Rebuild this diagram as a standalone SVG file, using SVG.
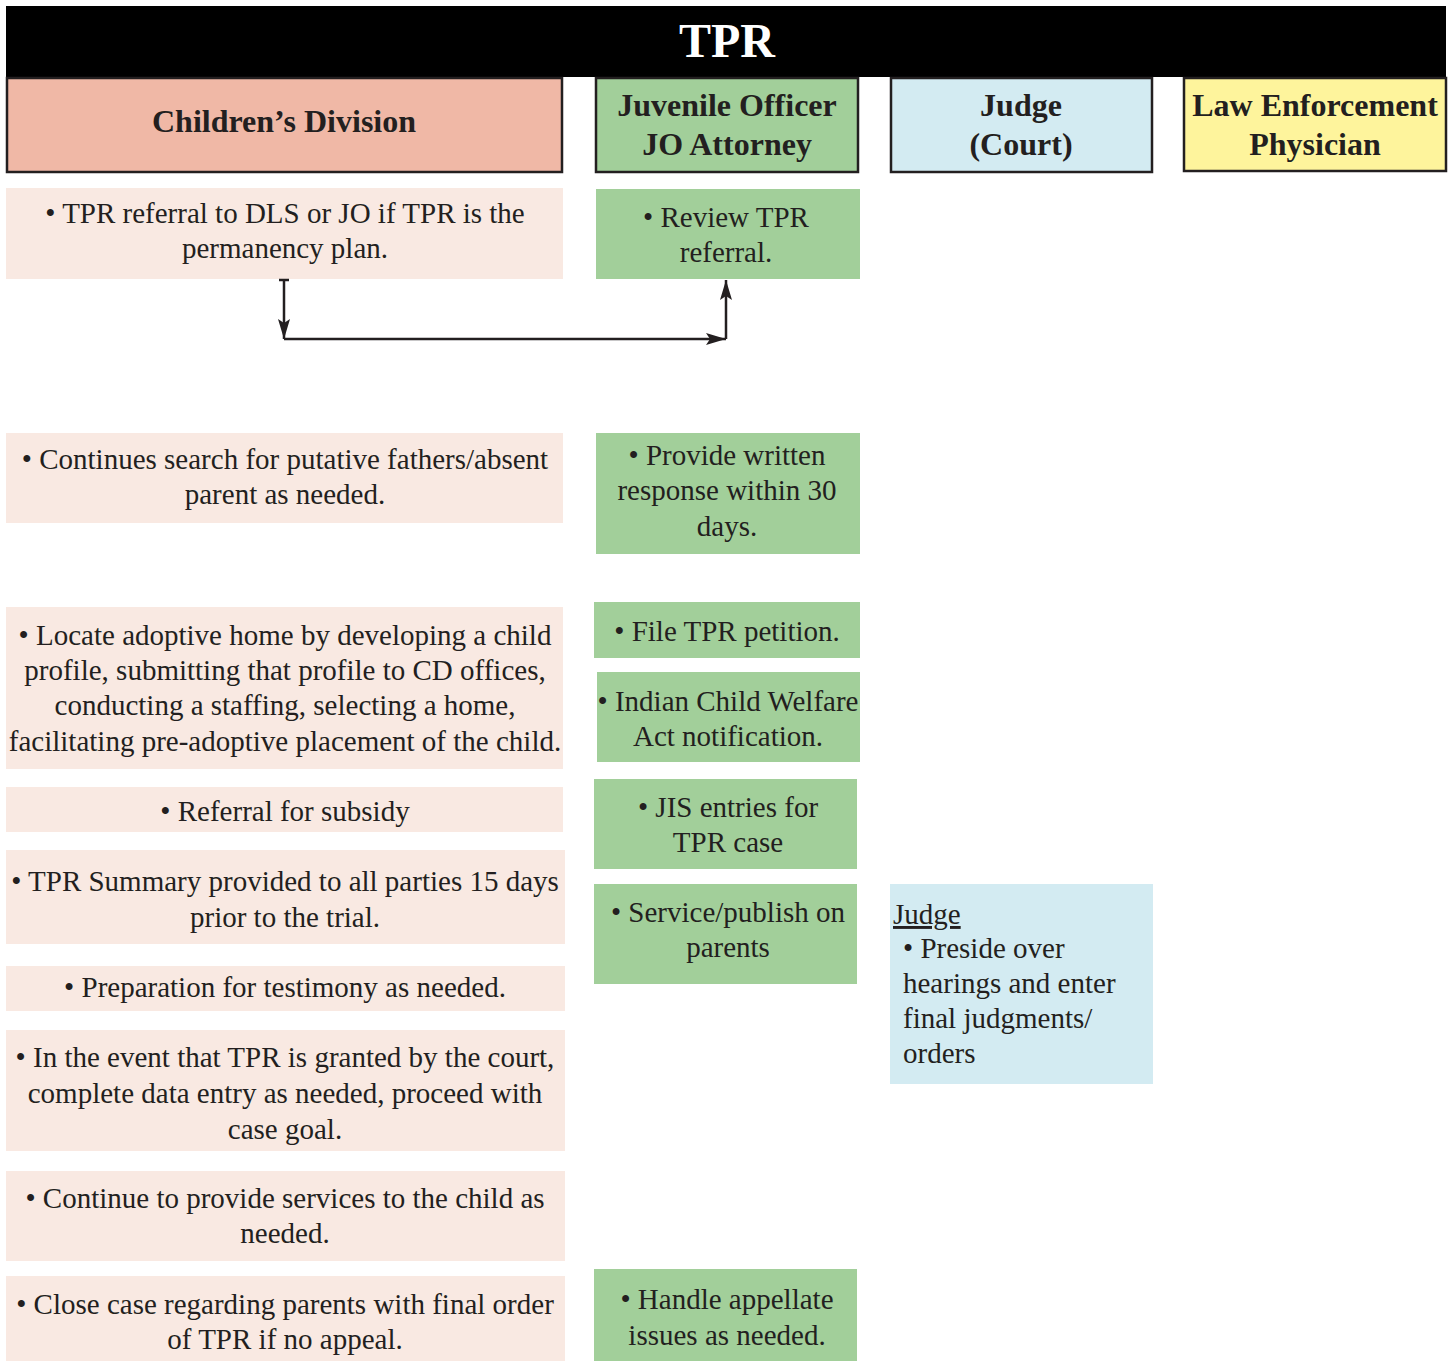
<svg xmlns="http://www.w3.org/2000/svg" width="1454" height="1361" viewBox="0 0 1454 1361">
<style>
.hd{stroke:#231f20;stroke-width:2.5}
.t{font-family:'Liberation Serif',serif;font-size:29px;fill:#231f20}
.h{font-family:'Liberation Serif',serif;font-size:32px;font-weight:bold;fill:#231f20}
.pk{fill:#f9e9e2}
.gr{fill:#a2cf9a}
.bl{fill:#d3ebf2}
.conn{fill:none;stroke:#231f20;stroke-width:2.5}
</style>
<defs>
<marker id="ah2" viewBox="0 0 20 12" refX="20" refY="6" markerWidth="20" markerHeight="12" markerUnits="userSpaceOnUse" orient="auto">
<path d="M0,0 L20,6 L0,12 L4,6 Z" fill="#231f20"/>
</marker>
</defs>
<rect width="1454" height="1361" fill="#ffffff"/>
<g id="title">
<rect x="6" y="6" width="1440" height="71" fill="#000000"/>
<text x="727" y="57" font-family="Liberation Serif, serif" font-size="48" font-weight="bold" fill="#ffffff" text-anchor="middle">TPR</text>
</g>
<g font-family="Liberation Serif, serif" text-anchor="middle">
<g id="hdr-cd">
<rect class="hd" x="7" y="78" width="555" height="94" fill="#f0b8a6"/>
<text class="h" x="284" y="132">Children’s Division</text>
</g>
<g id="hdr-jo">
<rect class="hd" x="596" y="78" width="262" height="94" fill="#a2cf9a"/>
<text class="h" x="727" y="116">Juvenile Officer</text>
<text class="h" x="727" y="155">JO Attorney</text>
</g>
<g id="hdr-judge">
<rect class="hd" x="891" y="78" width="261" height="94" fill="#d3ebf2"/>
<text class="h" x="1021" y="116">Judge</text>
<text class="h" x="1021" y="155">(Court)</text>
</g>
<g id="hdr-le">
<rect class="hd" x="1184" y="78" width="262" height="93" fill="#fef49c"/>
<text class="h" x="1315" y="116">Law Enforcement</text>
<text class="h" x="1315" y="155">Physician</text>
</g>

<g id="cd1"><rect class="pk" x="6" y="188" width="557" height="91"/>
<text class="t" x="285" y="223">• TPR referral to DLS or JO if TPR is the</text>
<text class="t" x="285" y="258">permanency plan.</text></g>
<g id="cd2"><rect class="pk" x="6" y="433" width="557" height="90"/>
<text class="t" x="285" y="469">• Continues search for putative fathers/absent</text>
<text class="t" x="285" y="504">parent as needed.</text></g>
<g id="cd3"><rect class="pk" x="6" y="607" width="557" height="162"/>
<text class="t" x="285" y="645">• Locate adoptive home by developing a child</text>
<text class="t" x="285" y="680">profile, submitting that profile to CD offices,</text>
<text class="t" x="285" y="715">conducting a staffing, selecting a home,</text>
<text class="t" x="285" y="751">facilitating pre-adoptive placement of the child.</text></g>
<g id="cd4"><rect class="pk" x="6" y="787" width="557" height="45"/>
<text class="t" x="285" y="821">• Referral for subsidy</text></g>
<g id="cd5"><rect class="pk" x="6" y="850" width="559" height="94"/>
<text class="t" x="285" y="891">• TPR Summary provided to all parties 15 days</text>
<text class="t" x="285" y="927">prior to the trial.</text></g>
<g id="cd6"><rect class="pk" x="6" y="966" width="559" height="45"/>
<text class="t" x="285" y="997">• Preparation for testimony as needed.</text></g>
<g id="cd7"><rect class="pk" x="6" y="1030" width="559" height="121"/>
<text class="t" x="285" y="1067">• In the event that TPR is granted by the court,</text>
<text class="t" x="285" y="1103">complete data entry as needed, proceed with</text>
<text class="t" x="285" y="1139">case goal.</text></g>
<g id="cd8"><rect class="pk" x="6" y="1171" width="559" height="90"/>
<text class="t" x="285" y="1208">• Continue to provide services to the child as</text>
<text class="t" x="285" y="1243">needed.</text></g>
<g id="cd9"><rect class="pk" x="6" y="1276" width="559" height="85"/>
<text class="t" x="285" y="1314">• Close case regarding parents with final order</text>
<text class="t" x="285" y="1349">of TPR if no appeal.</text></g>

<g id="jo1"><rect class="gr" x="596" y="189" width="264" height="90"/>
<text class="t" x="726" y="227">• Review TPR</text>
<text class="t" x="726" y="262">referral.</text></g>
<g id="jo2"><rect class="gr" x="596" y="433" width="264" height="121"/>
<text class="t" x="727" y="465">• Provide written</text>
<text class="t" x="727" y="500">response within 30</text>
<text class="t" x="727" y="536">days.</text></g>
<g id="jo3"><rect class="gr" x="594" y="602" width="266" height="56"/>
<text class="t" x="727" y="641">• File TPR petition.</text></g>
<g id="jo4"><rect class="gr" x="597" y="672" width="263" height="90"/>
<text class="t" x="728" y="711">• Indian Child Welfare</text>
<text class="t" x="728" y="746">Act notification.</text></g>
<g id="jo5"><rect class="gr" x="594" y="779" width="263" height="90"/>
<text class="t" x="728" y="817">• JIS entries for</text>
<text class="t" x="728" y="852">TPR case</text></g>
<g id="jo6"><rect class="gr" x="594" y="884" width="263" height="100"/>
<text class="t" x="728" y="922">• Service/publish on</text>
<text class="t" x="728" y="957">parents</text></g>
<g id="jo7"><rect class="gr" x="594" y="1269" width="263" height="92"/>
<text class="t" x="727" y="1309">• Handle appellate</text>
<text class="t" x="727" y="1345">issues as needed.</text></g>

<g id="judge1" text-anchor="start"><rect class="bl" x="890" y="884" width="263" height="200"/>
<text class="t" x="893" y="924" text-decoration="underline">Judge</text>
<text class="t" x="903" y="958">• Preside over</text>
<text class="t" x="903" y="993">hearings and enter</text>
<text class="t" x="903" y="1028">final judgments/</text>
<text class="t" x="903" y="1063">orders</text></g>
</g>
<g id="connectors">
<line class="conn" x1="279" y1="280" x2="289" y2="280"/>
<path class="conn" d="M284,280 L284,339" marker-end="url(#ah2)"/>
<path class="conn" d="M284,339 L726,339" marker-end="url(#ah2)"/>
<path class="conn" d="M726,339 L726,280" marker-end="url(#ah2)"/>
</g>
</svg>
